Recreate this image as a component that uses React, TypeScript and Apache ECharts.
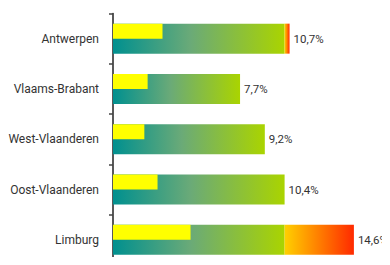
import React, { useEffect, useRef } from "react";
import * as echarts from "echarts";

const categories = ["Antwerpen", "Vlaams-Brabant", "West-Vlaanderen", "Oost-Vlaanderen", "Limburg"];
const totals = [10.7, 7.7, 9.2, 10.4, 14.6];
const baseValues = [10.4, 7.7, 9.2, 10.4, 10.4];
const excessValues = [0.3, 0, 0, 0, 4.2];
const yellowValues = [3.0, 2.1, 1.9, 2.7, 4.7];

const FONT = "Roboto, sans-serif";

export default function App() {
  const ref = useRef<HTMLDivElement>(null);
  useEffect(() => {
    if (!ref.current) return;
    const chart = echarts.init(ref.current, null, { renderer: "svg" });
    const greenGrad = new echarts.graphic.LinearGradient(0, 0, 1, 0, [
      { offset: 0, color: "#00908f" },
      { offset: 0.45, color: "#6aaa78" },
      { offset: 1, color: "#aad400" },
    ]);
    const redGrad = new echarts.graphic.LinearGradient(0, 0, 1, 0, [
      { offset: 0, color: "#ffd000" },
      { offset: 1, color: "#ff2a00" },
    ]);
    chart.setOption({
      animation: false,
      grid: { left: 113, width: 264, top: 13.5, height: 257, containLabel: false },
      xAxis: { type: "value", min: 0, max: 16, show: false },
      yAxis: [
        {
          type: "category",
          data: categories,
          inverse: true,
          axisLine: { show: true, lineStyle: { color: "#222", width: 1.5 } },
          axisTick: { show: true, length: 4, lineStyle: { color: "#444", width: 1.5 } },
          axisLabel: { color: "#333", fontSize: 12, fontFamily: FONT, margin: 14 },
        },
        {
          type: "category",
          data: categories,
          inverse: true,
          show: false,
        },
      ],
      series: [
        {
          type: "bar",
          stack: "main",
          yAxisIndex: 0,
          barWidth: 30,
          data: baseValues,
          itemStyle: { color: greenGrad },
        },
        {
          type: "bar",
          stack: "main",
          yAxisIndex: 0,
          barWidth: 30,
          data: excessValues,
          itemStyle: { color: redGrad },
          label: {
            show: true,
            position: "right",
            distance: 4,
            color: "#333",
            fontSize: 11.5,
            fontFamily: FONT,
            formatter: (p: any) => totals[p.dataIndex].toFixed(1).replace(".", ",") + "%",
          },
        },
        {
          type: "bar",
          yAxisIndex: 1,
          barWidth: 15,
          barGap: 0,
          data: yellowValues,
          itemStyle: { color: "#ffff00" },
          z: 3,
        },
        {
          type: "bar",
          yAxisIndex: 1,
          barWidth: 15,
          barGap: 0,
          data: yellowValues.map(() => 0),
          itemStyle: { color: "transparent" },
          z: 3,
        },
      ],
    });
    return () => chart.dispose();
  }, []);
  return <div ref={ref} style={{ width: 390, height: 265, margin: -8 }} />;
}
